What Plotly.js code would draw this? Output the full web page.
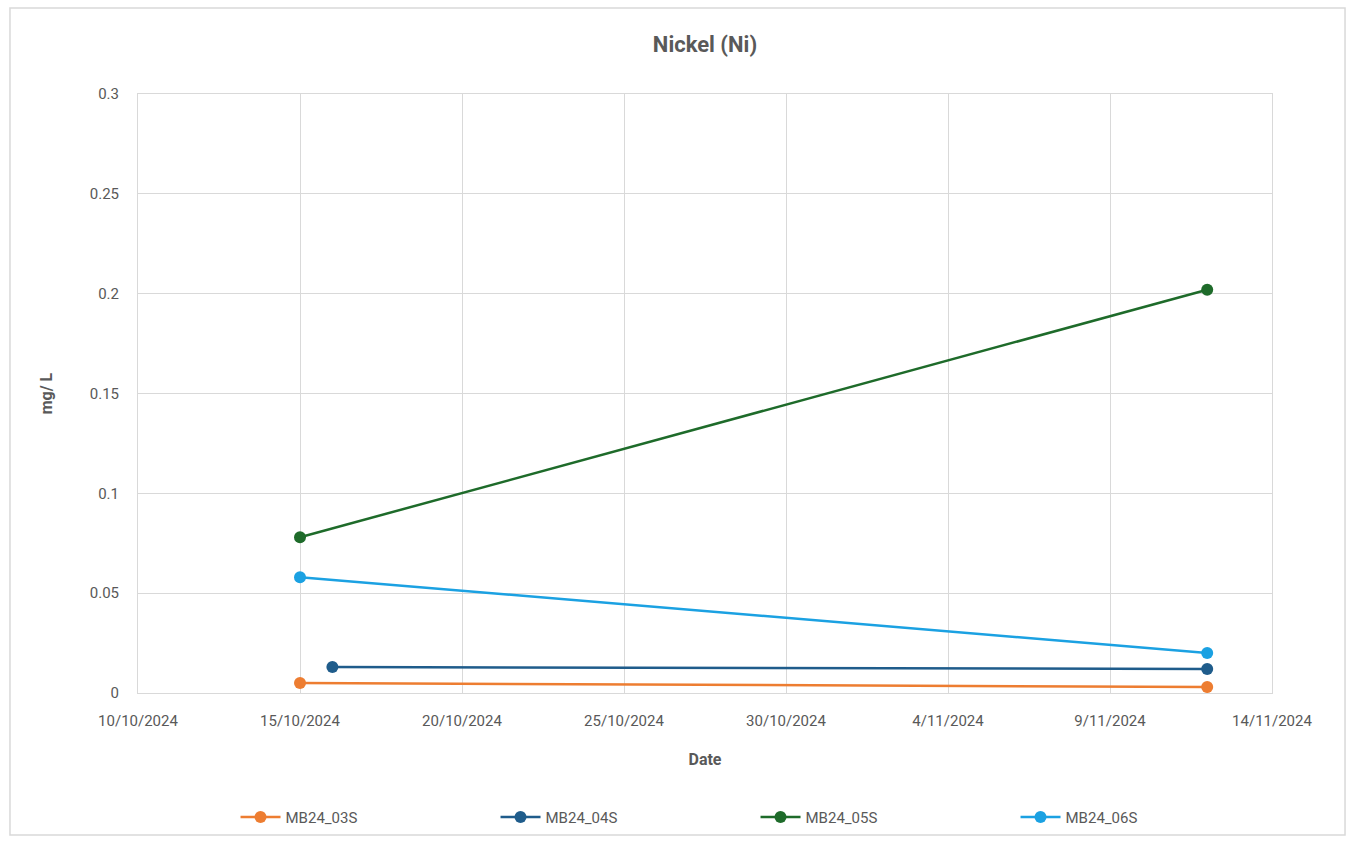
<!DOCTYPE html>
<html>
<head>
<meta charset="utf-8">
<script src="https://cdn.plot.ly/plotly-3.0.1.min.js"></script>
<style>html,body{margin:0;padding:0;background:#fff;}#chart{width:1359px;height:844px;}</style>
</head>
<body>
<div id="chart"></div>
<script>
const seriesNames = ["MB24_03S", "MB24_04S", "MB24_05S", "MB24_06S"];
const dates03 = ["2024-10-15", "2024-11-12"];
const values03 = [0.005, 0.003];
const dates04 = ["2024-10-16", "2024-11-12"];
const values04 = [0.013, 0.012];
const dates05 = ["2024-10-15", "2024-11-12"];
const values05 = [0.078, 0.202];
const dates06 = ["2024-10-15", "2024-11-12"];
const values06 = [0.058, 0.020];
const colors = ["#ED7D31", "#1F5C8B", "#1E6B2A", "#1BA1E2"];

const allDates = [dates03, dates04, dates05, dates06];
const allValues = [values03, values04, values05, values06];

const traces = seriesNames.map((n, i) => ({
  type: "scatter",
  mode: "lines+markers",
  name: n,
  x: allDates[i],
  y: allValues[i],
  line: {color: colors[i], width: 2.5},
  marker: {color: colors[i], size: 12}
}));

const grid = "#D9D9D9";
const txt = "#595959";
const fontFam = "Roboto, 'Liberation Sans', sans-serif";

const layout = {
  width: 1359, height: 844,
  margin: {l: 138, r: 87, t: 94, b: 151, autoexpand: false},
  paper_bgcolor: "#ffffff",
  plot_bgcolor: "#ffffff",
  font: {family: fontFam, color: txt, size: 14},
  title: {text: "<b>Nickel (Ni)</b>", x: 0.5, xref: "paper", xanchor: "center", y: 0.947, yref: "container", yanchor: "middle", font: {size: 22, color: txt}},
  xaxis: {
    type: "date",
    range: ["2024-10-10", "2024-11-14"],
    tick0: "2024-10-10",
    dtick: 5 * 86400000,
    tickformat: "%-d/%-m/%Y",
    showgrid: true, gridcolor: grid, gridwidth: 1,
    showline: true, linecolor: grid, mirror: true,
    ticks: "", zeroline: false,
    ticklabelstandoff: 14,
    tickfont: {size: 15, color: txt},
    title: {text: "<b>Date</b>", font: {size: 16, color: txt}, standoff: 24}
  },
  yaxis: {
    range: [0, 0.3],
    dtick: 0.05,
    tick0: 0,
    showgrid: true, gridcolor: grid, gridwidth: 1,
    showline: true, linecolor: grid, mirror: true,
    ticks: "", zeroline: false,
    ticklabelstandoff: 15,
    tickfont: {size: 15, color: txt},
    title: {text: "<b>mg/ L</b>", font: {size: 16, color: txt}, standoff: 33}
  },
  showlegend: true,
  legend: {
    orientation: "h",
    x: 0.086, xanchor: "left",
    y: -0.18, yanchor: "top",
    entrywidth: 205,
    bgcolor: "rgba(0,0,0,0)",
    font: {size: 15, color: txt},
    itemwidth: 40
  },
  shapes: [{
    type: "rect", xref: "paper", yref: "paper",
    x0: -0.1129, x1: 1.0644, y0: -0.237, y1: 1.1436,
    line: {color: grid, width: 1.5}, fillcolor: "rgba(0,0,0,0)", layer: "below"
  }]
};

Plotly.newPlot("chart", traces, layout, {displayModeBar: false, staticPlot: true});
</script>
</body>
</html>
